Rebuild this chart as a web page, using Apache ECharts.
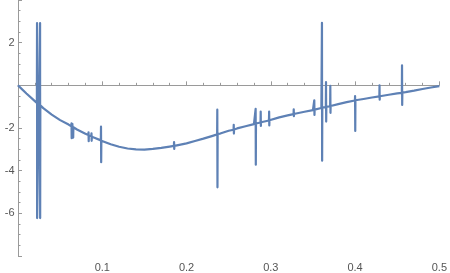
<!DOCTYPE html>
<html><head><meta charset="utf-8">
<script src="https://cdn.jsdelivr.net/npm/echarts@6/dist/echarts.min.js"></script>
<style>html,body{margin:0;padding:0;background:#fff}#c{width:450px;height:273px}</style>
</head><body><div id="c"></div>
<script>
const xValues = [
  0, 0.01, 0.02,
  0.0224, 0.0226, 0.0227, 0.0262, 0.0263, 0.0265,
  0.03, 0.04, 0.05, 0.06,
  0.0633, 0.0635, 0.0637, 0.0645, 0.0655, 0.0657,
  0.07, 0.08,
  0.0835, 0.0837, 0.0839, 0.0841,
  0.087, 0.0872, 0.0874, 0.0876,
  0.09,
  0.0983, 0.0985, 0.0987, 0.0989,
  0.10, 0.11, 0.12, 0.13, 0.14, 0.15, 0.16, 0.17, 0.18,
  0.185, 0.1852, 0.1854, 0.1856,
  0.19, 0.20, 0.21, 0.22, 0.23,
  0.2363, 0.2365, 0.2367, 0.2369,
  0.24, 0.25,
  0.2558, 0.256, 0.2562, 0.2564,
  0.26, 0.27, 0.28,
  0.2818, 0.282, 0.2822, 0.2824,
  0.2878, 0.288, 0.2882, 0.2884,
  0.29,
  0.2978, 0.298, 0.2982, 0.2984,
  0.30, 0.31, 0.32,
  0.327, 0.3272, 0.3274, 0.3276,
  0.33, 0.34, 0.35,
  0.3514, 0.3516, 0.3518, 0.352,
  0.36,
  0.3605, 0.3607, 0.3609, 0.3611,
  0.3653, 0.3655, 0.3657, 0.3659,
  0.3704, 0.3706, 0.3708, 0.371,
  0.38, 0.39,
  0.3998, 0.4, 0.4002, 0.4004,
  0.41, 0.42,
  0.4288, 0.429, 0.4292, 0.4294,
  0.44, 0.45,
  0.4555, 0.4557, 0.4559, 0.4561,
  0.46, 0.47, 0.48, 0.49, 0.50
];
const yValues = [
  0, -0.38, -0.74,
  -0.83, 2.92, -6.22, 2.92, -6.22, -0.94,
  -1.07, -1.37, -1.63, -1.84,
  -1.92, -1.78, -2.48, -1.8, -2.45, -1.96,
  -2.07, -2.27,
  -2.33, -2.2, -2.62, -2.35,
  -2.38, -2.25, -2.6, -2.4,
  -2.45,
  -2.58, -1.94, -3.6, -2.6,
  -2.62, -2.76, -2.88, -2.96, -3.0, -3.01, -2.98, -2.93, -2.87,
  -2.84, -2.66, -2.98, -2.84,
  -2.80, -2.72, -2.61, -2.5, -2.38,
  -2.3, -1.14, -4.78, -2.28,
  -2.26, -2.13,
  -2.08, -1.85, -2.26, -2.07,
  -2.02, -1.92, -1.82,
  -1.8, -1.1, -3.72, -1.79,
  -1.74, -1.23, -1.9, -1.73,
  -1.72,
  -1.65, -1.23, -1.88, -1.64,
  -1.62, -1.5, -1.41,
  -1.35, -1.12, -1.45, -1.34,
  -1.32, -1.24, -1.16,
  -1.15, -0.70, -1.39, -1.14,
  -1.06,
  -1.05, 2.93, -3.53, -1.04,
  -1.02, 0.15, -1.7, -1.01,
  -0.98, -0.03, -1.29, -0.97,
  -0.88, -0.79,
  -0.71, -0.5, -2.14, -0.70,
  -0.64, -0.57,
  -0.52, 0.0, -0.67, -0.51,
  -0.44, -0.38,
  -0.35, 0.94, -0.92, -0.34,
  -0.32, -0.25, -0.17, -0.1, -0.04
];
const xTicks = [0.1, 0.2, 0.3, 0.4, 0.5];
const yTicks = [-6, -4, -2, 2];

const pts = xValues.map((x, i) => [x, yValues[i]]);
const axisGray = '#9a9a9a';
const labelGray = '#555555';
const chart = echarts.init(document.getElementById('c'), null, {renderer: 'canvas'});
chart.setOption({
  animation: false,
  grid: {left: 18, right: 10.5, top: -15.36, bottom: -33.74, containLabel: false},
  xAxis: {
    type: 'value', min: 0, max: 0.5, interval: 0.1,
    axisLine: {show: true, onZero: true, lineStyle: {color: axisGray, width: 1}},
    axisTick: {show: true, inside: true, length: 4, lineStyle: {color: axisGray}},
    minorTick: {show: true, splitNumber: 5, length: 2.5, lineStyle: {color: axisGray}},
    splitLine: {show: false}, minorSplitLine: {show: false},
    axisLabel: {
      margin: 6, color: labelGray, fontSize: 11, fontFamily: 'Liberation Sans, Arial, sans-serif',
      formatter: v => (xTicks.some(t => Math.abs(t - v) < 1e-9) ? String(+v.toFixed(1)) : '')
    }
  },
  yAxis: {
    type: 'value', min: -8, max: 4, interval: 2,
    axisLine: {show: true, onZero: true, lineStyle: {color: axisGray, width: 1}},
    axisTick: {show: true, inside: true, length: 4, lineStyle: {color: axisGray}},
    minorTick: {show: true, splitNumber: 4, length: 2.5, lineStyle: {color: axisGray}},
    splitLine: {show: false}, minorSplitLine: {show: false},
    axisLabel: {
      margin: 3.5, color: labelGray, fontSize: 11, fontFamily: 'Liberation Sans, Arial, sans-serif',
      formatter: v => (yTicks.indexOf(v) >= 0 ? String(v) : '')
    }
  },
  series: [{
    type: 'line', data: pts, showSymbol: false, symbol: 'none', clip: true,
    lineStyle: {color: '#5E81B5', width: 2.2, join: 'round'}
  }]
});
</script></body></html>
